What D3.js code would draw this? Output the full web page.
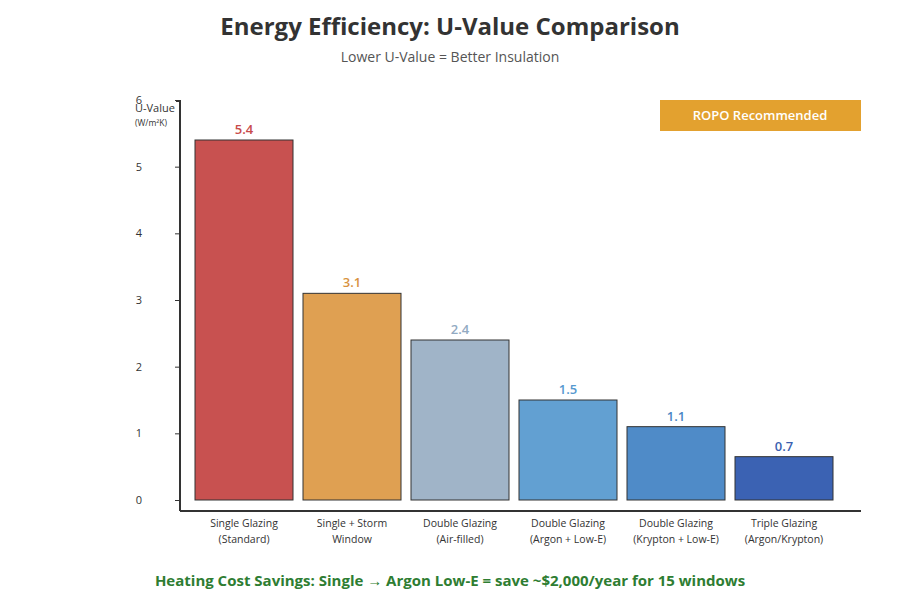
<!DOCTYPE html>
<html>
<head>
<meta charset="utf-8">
<script src="https://cdn.jsdelivr.net/npm/d3@7"></script>
<style>
  body { margin: 0; background: #fff; }
  text { font-family: "Open Sans", "Noto Sans", sans-serif; }
</style>
</head>
<body>
<svg id="chart" width="900" height="600"></svg>
<script>
// window types, two text lines each
const categories = ["single", "storm", "double-air", "double-argon", "double-krypton", "triple"];
const labelTop = ["Single Glazing", "Single + Storm", "Double Glazing", "Double Glazing", "Double Glazing", "Triple Glazing"];
const labelBottom = ["(Standard)", "Window", "(Air-filled)", "(Argon + Low-E)", "(Krypton + Low-E)", "(Argon/Krypton)"];
const uValues = [5.4, 3.1, 2.4, 1.5, 1.1, 0.65];
const barColors = ["#c85150", "#dfa052", "#a0b4c8", "#62a0d2", "#4f8bc8", "#3b62b3"];
const valueColors = ["#c84b4b", "#d8923e", "#92aac2", "#5699cf", "#4a86c4", "#3a5fb0"];
const yTicks = [0, 1, 2, 3, 4, 5, 6];

const svg = d3.select("#chart");

const x = d3.scaleBand()
  .domain(categories)
  .range([190, 838])
  .paddingInner(10 / 108)
  .paddingOuter(5 / 108);

const y = d3.scaleLinear().domain([0, 6]).range([500, 100]);

// titles
svg.append("text")
  .attr("x", 450).attr("y", 35)
  .attr("text-anchor", "middle")
  .attr("font-size", 24).attr("font-weight", "bold")
  .attr("fill", "#333")
  .text("Energy Efficiency: U-Value Comparison");

svg.append("text")
  .attr("x", 450).attr("y", 62)
  .attr("text-anchor", "middle")
  .attr("font-size", 14)
  .attr("fill", "#555")
  .text("Lower U-Value = Better Insulation");

// y axis
const yAxis = svg.append("g")
  .attr("transform", "translate(180,0)")
  .call(d3.axisLeft(y).tickValues(yTicks).tickSize(5).tickSizeOuter(0).tickFormat(d3.format("d")));
yAxis.select(".domain").remove();
yAxis.selectAll("line").attr("stroke", "#333");
yAxis.selectAll("text").attr("font-size", 11).attr("fill", "#333").attr("x", -38);

svg.append("path")
  .attr("d", "M176,101H180V511")
  .attr("fill", "none").attr("stroke", "#333").attr("stroke-width", 2);

// x axis line
svg.append("line")
  .attr("x1", 180).attr("x2", 861)
  .attr("y1", 511).attr("y2", 511)
  .attr("stroke", "#333").attr("stroke-width", 2);

svg.append("text")
  .attr("x", 135).attr("y", 112)
  .attr("font-size", 11).attr("fill", "#333")
  .text("U-Value");
svg.append("text")
  .attr("x", 135).attr("y", 126)
  .attr("font-size", 8.5).attr("fill", "#333")
  .text("(W/m²K)");

// bars
svg.selectAll("rect.bar")
  .data(categories)
  .join("rect")
  .attr("class", "bar")
  .attr("x", d => x(d))
  .attr("y", (d, i) => y(uValues[i]))
  .attr("width", x.bandwidth())
  .attr("height", (d, i) => y(0) - y(uValues[i]))
  .attr("fill", (d, i) => barColors[i])
  .attr("stroke", "#333").attr("stroke-width", 1);

svg.selectAll("text.value")
  .data(categories)
  .join("text")
  .attr("class", "value")
  .attr("x", d => x(d) + x.bandwidth() / 2)
  .attr("y", (d, i) => y(uValues[i]) - 6)
  .attr("text-anchor", "middle")
  .attr("font-size", 13).attr("font-weight", 600)
  .attr("fill", (d, i) => valueColors[i])
  .text((d, i) => uValues[i].toFixed(1));

// category labels
const xl = svg.selectAll("g.xlabel")
  .data(categories)
  .join("g")
  .attr("class", "xlabel")
  .attr("transform", d => `translate(${x(d) + x.bandwidth() / 2},0)`);
xl.append("text")
  .attr("y", 527).attr("text-anchor", "middle")
  .attr("font-size", 10.5).attr("fill", "#333")
  .text((d, i) => labelTop[i]);
xl.append("text")
  .attr("y", 543).attr("text-anchor", "middle")
  .attr("font-size", 10.5).attr("fill", "#333")
  .text((d, i) => labelBottom[i]);

// badge
svg.append("rect")
  .attr("x", 660).attr("y", 100)
  .attr("width", 201).attr("height", 31)
  .attr("fill", "#e3a12f");
svg.append("text")
  .attr("x", 760).attr("y", 120)
  .attr("text-anchor", "middle")
  .attr("font-size", 13).attr("font-weight", 600)
  .attr("fill", "#fff")
  .text("ROPO Recommended");

// footer note
svg.append("text")
  .attr("x", 450).attr("y", 586)
  .attr("text-anchor", "middle")
  .attr("font-size", 15).attr("font-weight", "bold")
  .attr("fill", "#2e7d32")
  .text("Heating Cost Savings: Single → Argon Low-E = save ~$2,000/year for 15 windows");
</script>
</body>
</html>
